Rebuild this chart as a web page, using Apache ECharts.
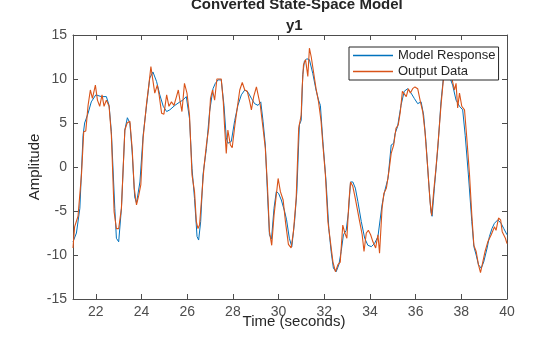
<!DOCTYPE html>
<html>
<head>
<meta charset="utf-8">
<script src="https://cdn.jsdelivr.net/npm/echarts@6/dist/echarts.min.js"></script>
<style>html,body{margin:0;padding:0;background:#fff}#c{width:560px;height:337px}</style>
</head>
<body>
<div id="c"></div>
<script>
var modelTime = [21.0,21.15,21.3,21.44,21.51,21.66,21.8,22.0,22.24,22.46,22.58,22.68,22.83,22.9,23.0,23.12,23.27,23.38,23.49,23.59,23.7,23.78,23.93,24.07,24.22,24.36,24.5,24.66,24.8,24.95,25.1,25.24,25.46,25.68,25.81,25.96,26.1,26.21,26.32,26.43,26.5,26.59,26.69,26.84,26.98,27.13,27.23,27.35,27.49,27.61,27.71,27.78,27.93,28.08,28.22,28.37,28.52,28.66,28.81,28.95,29.1,29.22,29.32,29.42,29.51,29.6,29.69,29.8,29.9,30.0,30.12,30.27,30.35,30.47,30.58,30.7,30.8,30.91,30.99,31.06,31.13,31.23,31.35,31.5,31.64,31.75,31.83,31.94,32.08,32.2,32.3,32.4,32.52,32.64,32.74,32.84,32.96,33.06,33.15,33.25,33.36,33.47,33.62,33.77,33.91,34.06,34.2,34.35,34.42,34.53,34.64,34.79,34.93,35.04,35.1,35.21,35.36,35.5,35.65,35.8,35.94,36.09,36.24,36.35,36.45,36.57,36.67,36.72,36.82,36.97,37.11,37.23,37.33,37.48,37.62,37.77,37.92,38.06,38.17,38.31,38.46,38.55,38.65,38.75,38.87,38.98,39.13,39.23,39.34,39.45,39.6,39.74,39.86,40.0];
var modelValues = [-8.5,-7.5,-4.7,3.6,5.0,6.1,7.4,8.2,8.0,8.0,7.0,4.0,-4.7,-8.1,-8.5,-4.7,4.2,5.6,5.0,1.7,-3.4,-4.1,-1.7,3.6,7.0,10.1,10.8,9.7,8.2,6.9,6.3,6.5,7.0,7.4,7.6,8.0,5.5,-0.15,-3.6,-7.9,-8.3,-6.2,-0.9,2.1,6.3,8.9,9.5,9.9,9.9,7.0,3.3,2.7,2.9,5.3,7.0,8.2,8.75,8.5,7.8,7.2,7.0,7.4,5.2,2.5,-2.8,-7.7,-8.2,-4.7,-2.8,-3.0,-3.75,-5.1,-6.0,-8.1,-9.05,-6.2,-2.8,4.8,5.3,10.5,12.0,12.3,12.2,10.6,8.75,7.6,7.0,2.9,-1.7,-7.0,-9.6,-11.5,-11.9,-11.1,-9.6,-7.7,-7.2,-5.1,-1.7,-1.7,-2.4,-3.9,-6.2,-8.1,-8.9,-9.05,-8.7,-7.9,-7.9,-4.3,-2.8,-1.3,2.5,2.7,3.8,4.6,7.0,8.6,8.9,8.4,7.8,7.2,7.4,5.9,2.9,-1.7,-5.1,-5.6,-2.4,2.1,7.4,10.5,10.8,10.3,9.3,7.6,6.9,6.5,3.6,-0.9,-6.2,-9.05,-10.0,-11.1,-11.5,-10.8,-9.2,-7.9,-7.0,-6.4,-6.0,-6.4,-7.0,-7.7];
var outputTime = [21.0,21.07,21.15,21.22,21.37,21.47,21.56,21.66,21.76,21.85,21.98,22.07,22.17,22.27,22.36,22.46,22.58,22.68,22.8,22.9,23.0,23.12,23.27,23.37,23.49,23.59,23.68,23.78,23.88,23.97,24.07,24.22,24.32,24.41,24.48,24.58,24.69,24.77,24.88,24.98,25.1,25.2,25.31,25.42,25.53,25.61,25.68,25.77,25.88,25.99,26.1,26.21,26.32,26.4,26.47,26.54,26.62,26.73,26.84,26.94,27.02,27.11,27.2,27.3,27.38,27.49,27.58,27.64,27.71,27.78,27.89,27.97,28.08,28.18,28.3,28.41,28.52,28.63,28.74,28.81,28.91,29.03,29.1,29.2,29.32,29.42,29.51,29.6,29.7,29.8,29.9,29.98,30.08,30.2,30.3,30.43,30.55,30.65,30.77,30.88,30.99,31.03,31.09,31.18,31.28,31.35,31.43,31.53,31.64,31.75,31.86,31.94,32.05,32.16,32.27,32.38,32.49,32.6,32.7,32.81,32.9,32.99,33.08,33.15,33.25,33.36,33.44,33.55,33.66,33.74,33.84,33.93,34.03,34.13,34.25,34.35,34.42,34.53,34.61,34.72,34.83,34.93,35.04,35.14,35.24,35.33,35.42,35.5,35.59,35.68,35.77,35.87,35.97,36.09,36.21,36.31,36.41,36.53,36.63,36.7,36.79,36.89,37.0,37.11,37.22,37.3,37.41,37.51,37.6,37.7,37.77,37.84,37.92,38.02,38.14,38.24,38.36,38.46,38.55,38.65,38.75,38.84,38.94,39.04,39.16,39.23,39.31,39.38,39.45,39.52,39.63,39.72,39.79,39.86,39.93,40.0];
var outputValues = [-9.2,-6.8,-6.8,-5.6,-0.9,4.0,4.1,7.0,8.75,7.8,9.3,7.6,6.9,8.2,6.9,7.6,6.9,3.6,-5.1,-7.0,-7.0,-4.7,4.2,5.0,5.2,2.1,-2.4,-4.3,-3.2,-2.0,3.3,7.2,9.3,11.4,11.5,8.4,9.3,8.2,6.1,6.0,8.2,6.9,7.4,7.0,8.0,8.75,7.6,6.3,9.5,8.4,5.9,-0.9,-2.8,-6.2,-7.0,-6.6,-3.9,-0.15,2.5,4.4,7.8,8.75,7.6,10.0,9.8,10.0,7.4,4.4,1.55,4.2,2.5,2.2,4.6,6.5,8.75,9.6,8.75,8.6,7.4,6.5,8.0,9.1,9.1,7.0,4.4,2.1,-2.0,-7.35,-8.9,-5.5,-3.2,-1.3,-2.8,-3.75,-6.2,-8.8,-9.2,-7.35,-3.6,4.4,5.9,8.9,11.6,12.2,10.3,13.5,12.5,10.8,8.9,7.4,5.2,2.5,-0.9,-6.2,-8.5,-10.8,-11.9,-11.1,-10.8,-6.6,-7.5,-8.1,-3.9,-1.7,-2.2,-3.6,-3.6,-6.2,-7.7,-9.6,-7.5,-7.2,-7.7,-8.5,-9.2,-7.7,-9.8,-4.7,-3.0,-2.4,-0.5,1.55,2.5,4.4,4.8,6.3,8.6,8.4,8.0,8.9,8.4,8.9,9.1,8.9,7.4,6.3,4.0,-0.15,-3.9,-5.5,-2.8,-0.15,3.3,7.0,10.1,11.2,10.5,10.8,9.9,8.75,9.5,6.7,8.4,6.9,6.5,3.3,-0.9,-5.5,-8.9,-9.6,-11.1,-12.0,-10.8,-9.6,-8.5,-8.3,-7.7,-7.9,-6.8,-7.2,-5.8,-6.0,-7.35,-7.2,-8.1,-8.7];
var xTicks = [22,24,26,28,30,32,34,36,38,40];
var yTicks = [-15,-10,-5,0,5,10,15];

function pairs(t, v) { return t.map(function (x, i) { return [x, v[i]]; }); }

var FONT = 'Liberation Sans, Arial, sans-serif';
var AX = '#4d4d4d';
var chart = echarts.init(document.getElementById('c'), null, {renderer: 'canvas'});
chart.setOption({
  animation: false,
  backgroundColor: '#fff',
  title: [
    {text: 'Converted State-Space Model', left: 186, top: -8,
     textStyle: {fontFamily: FONT, fontSize: 15, fontWeight: 'bold', color: '#262626'}},
    {text: 'y1', left: 281, top: 13,
     textStyle: {fontFamily: FONT, fontSize: 15, fontWeight: 'bold', color: '#262626'}}
  ],
  legend: {
    orient: 'vertical', left: 349, top: 47,
    backgroundColor: '#fff', borderColor: '#262626', borderWidth: 1,
    padding: [1, 3, 1, 4], itemGap: 1, itemWidth: 40, itemHeight: 1.5,
    icon: 'rect',
    textStyle: {fontFamily: FONT, fontSize: 13, color: '#262626', lineHeight: 15},
    data: ['Model Response', 'Output Data']
  },
  grid: {left: 73, right: 53, top: 35, bottom: 38, containLabel: false, outerBoundsMode: 'none'},
  xAxis: [
    {type: 'value', min: 21, max: 40, position: 'bottom',
     name: 'Time (seconds)', nameLocation: 'middle', nameGap: 15, nameMoveOverlap: false,
     nameTextStyle: {fontFamily: FONT, fontSize: 15, color: '#262626', padding: [0, 0, 0, 8]},
     axisLine: {onZero: false, lineStyle: {color: AX, width: 1}},
     axisTick: {inside: true, length: 5, customValues: xTicks, lineStyle: {color: AX}},
     axisLabel: {customValues: xTicks, fontFamily: FONT, fontSize: 14, color: AX, margin: 6},
     splitLine: {show: false}},
    {type: 'value', min: 21, max: 40, position: 'top',
     axisLine: {onZero: false, lineStyle: {color: AX, width: 1}},
     axisTick: {inside: true, length: 5, customValues: xTicks, lineStyle: {color: AX}},
     axisLabel: {show: false}, splitLine: {show: false}}
  ],
  yAxis: [
    {type: 'value', min: -15, max: 15, interval: 5, position: 'left',
     name: 'Amplitude', nameLocation: 'middle', nameGap: 31, nameRotate: 90, nameMoveOverlap: false,
     nameTextStyle: {fontFamily: FONT, fontSize: 15, color: '#262626'},
     axisLine: {show: true, onZero: false, lineStyle: {color: AX, width: 1}},
     axisTick: {show: true, inside: true, length: 5, lineStyle: {color: AX}},
     axisLabel: {fontFamily: FONT, fontSize: 14, color: AX, margin: 6},
     splitLine: {show: false}},
    {type: 'value', min: -15, max: 15, interval: 5, position: 'right',
     axisLine: {show: true, onZero: false, lineStyle: {color: AX, width: 1}},
     axisTick: {show: true, inside: true, length: 5, lineStyle: {color: AX}},
     axisLabel: {show: false}, splitLine: {show: false}}
  ],
  series: [
    {name: 'Model Response', type: 'line', data: pairs(modelTime, modelValues),
     showSymbol: false, symbol: 'none', color: '#0072BD',
     lineStyle: {width: 1, color: '#0072BD'}},
    {name: 'Output Data', type: 'line', data: pairs(outputTime, outputValues),
     showSymbol: false, symbol: 'none', color: '#D95319',
     lineStyle: {width: 1.1, color: '#D95319'}}
  ]
});
</script>
</body>
</html>
